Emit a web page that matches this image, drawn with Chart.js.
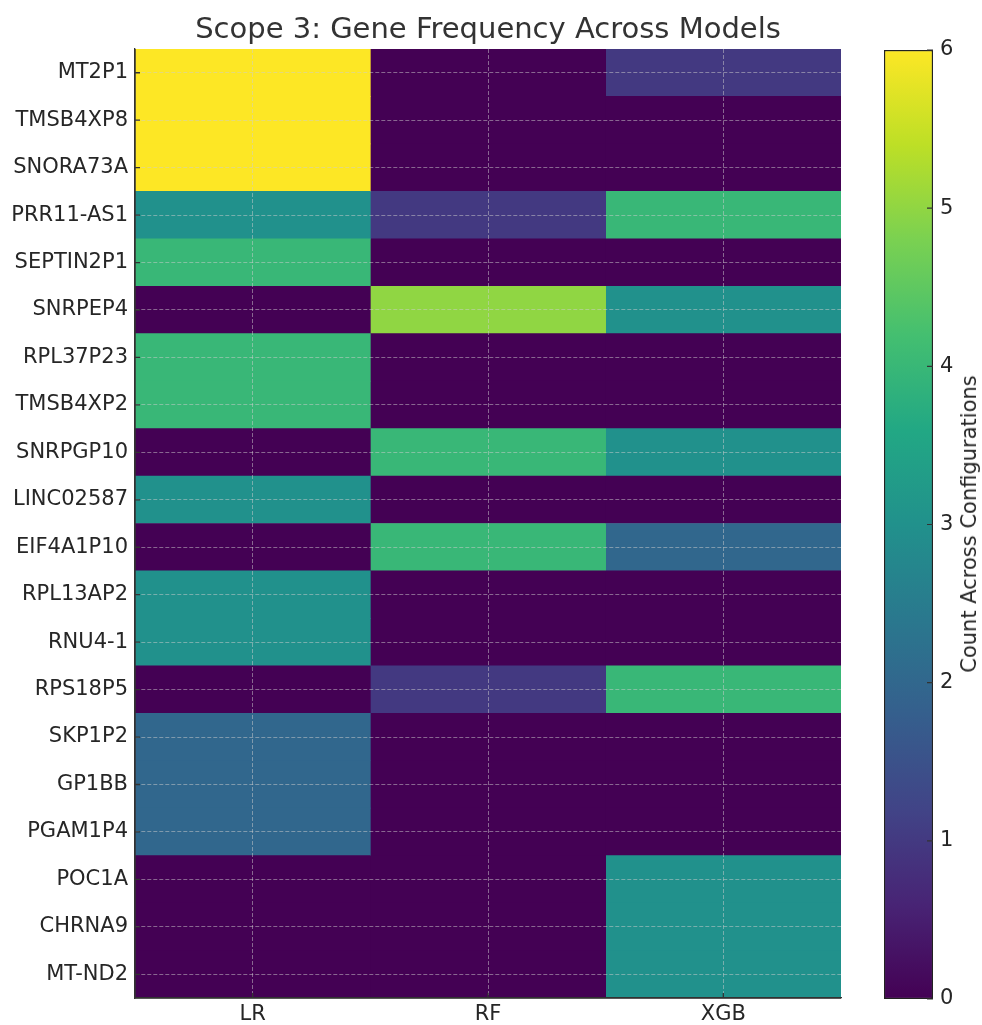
<!DOCTYPE html>
<html>
<head>
<meta charset="utf-8">
<script src="https://cdn.jsdelivr.net/npm/chart.js@4.4.1/dist/chart.umd.min.js"></script>
<style>
  html, body { margin: 0; padding: 0; background: #fff; }
  #wrap { position: relative; width: 982px; height: 1025px; }
  #heat { position: absolute; left: 0; top: 0; }
  #bar { position: absolute; left: 841px; top: 0; }
  #title {
    position: absolute; left: 488px; top: 28px;
    transform: translate(-50%, -50%);
    white-space: nowrap; font: 29px "DejaVu Sans", sans-serif; color: #333;
  }
  #cbLabel {
    position: absolute; left: 969px; top: 524px;
    transform: translate(-50%, -50%) rotate(-90deg);
    white-space: nowrap; font: 21px "DejaVu Sans", sans-serif; color: #262626;
  }
</style>
</head>
<body>
<div id="wrap">
  <canvas id="heat" width="982" height="1025"></canvas>
  <canvas id="bar" width="141" height="1025"></canvas>
  <div id="title">Scope 3: Gene Frequency Across Models</div>
  <div id="cbLabel">Count Across Configurations</div>
</div>
<script>
// Genes (rows, top to bottom) and models (columns)
const genes = ['MT2P1', 'TMSB4XP8', 'SNORA73A', 'PRR11-AS1', 'SEPTIN2P1', 'SNRPEP4',
  'RPL37P23', 'TMSB4XP2', 'SNRPGP10', 'LINC02587', 'EIF4A1P10', 'RPL13AP2', 'RNU4-1',
  'RPS18P5', 'SKP1P2', 'GP1BB', 'PGAM1P4', 'POC1A', 'CHRNA9', 'MT-ND2'];
const models = ['LR', 'RF', 'XGB'];

// How often each gene was selected, per model
const countsLR  = [6, 6, 6, 3, 4, 0, 4, 4, 0, 3, 0, 3, 3, 0, 2, 2, 2, 0, 0, 0];
const countsRF  = [0, 0, 0, 1, 0, 5, 0, 0, 4, 0, 4, 0, 0, 1, 0, 0, 0, 0, 0, 0];
const countsXGB = [1, 0, 0, 4, 0, 3, 0, 0, 3, 0, 2, 0, 0, 4, 0, 0, 0, 3, 3, 3];

// Colour scale range and colourbar ticks
const vMin = 0, vMax = 6;
const cbTicks = [0, 1, 2, 3, 4, 5, 6];

// viridis colour map, sampled every 0.1
const viridis = ['#440154', '#482475', '#414487', '#355f8d', '#2a788e', '#21918c',
  '#22a884', '#44bf70', '#7ad151', '#bddf26', '#fde725'];

function hexToRgb(h) {
  return [parseInt(h.slice(1, 3), 16), parseInt(h.slice(3, 5), 16), parseInt(h.slice(5, 7), 16)];
}
function colorFor(v) {
  const t = Math.min(1, Math.max(0, (v - vMin) / (vMax - vMin))) * (viridis.length - 1);
  const i = Math.min(viridis.length - 2, Math.floor(t));
  const f = t - i;
  const a = hexToRgb(viridis[i]), b = hexToRgb(viridis[i + 1]);
  const c = a.map((x, k) => Math.round(x + (b[k] - x) * f));
  return `rgb(${c[0]},${c[1]},${c[2]})`;
}

const FONT = '"DejaVu Sans", sans-serif';
const TEXT = '#262626';
const TICK_SIZE = 21;
const TICK_LEN = 5;

// dashed grid through the cell centres, drawn above the cells
const gridStyle = {
  color: 'rgba(205,205,205,0.5)', lineWidth: 1,
  offset: false, drawTicks: false, z: 1
};
const axisBorder = { display: true, color: '#333', width: 1.3, dash: [4, 2], z: 2 };

const columns = [countsLR, countsRF, countsXGB];
const heatDatasets = columns.map((counts, i) => ({
  label: models[i],
  data: counts.map(() => 1),
  counts: counts,
  backgroundColor: counts.map(colorFor),
  borderWidth: 0,
  barPercentage: 1,
  categoryPercentage: 1,
  stack: 'cells'
}));

new Chart(document.getElementById('heat'), {
  type: 'bar',
  data: { labels: genes, datasets: heatDatasets },
  options: {
    indexAxis: 'y',
    responsive: false,
    animation: false,
    layout: { padding: { left: 0, right: 141, top: 49, bottom: 0 } },
    plugins: { legend: { display: false }, tooltip: { enabled: false } },
    scales: {
      x: {
        type: 'linear', stacked: true, min: 0, max: models.length,
        grid: gridStyle,
        border: axisBorder,
        afterBuildTicks: s => { s.ticks = models.map((m, i) => ({ value: i + 0.5 })); },
        afterFit: s => { s.height = 27; },
        ticks: {
          color: TEXT, padding: 4, font: { family: FONT, size: TICK_SIZE },
          callback: v => models[Math.round(v - 0.5)]
        }
      },
      y: {
        type: 'category', stacked: true,
        grid: gridStyle,
        border: axisBorder,
        afterFit: s => { s.width = 135; },
        ticks: { color: TEXT, padding: 7, font: { family: FONT, size: TICK_SIZE } }
      }
    }
  },
  plugins: [{
    // solid spines on the left and bottom edges, with short inward tick marks
    id: 'spines',
    afterDraw(chart) {
      const { ctx, chartArea: a, scales } = chart;
      ctx.save();
      ctx.strokeStyle = '#333';
      ctx.lineWidth = 1.3;
      ctx.beginPath();
      ctx.moveTo(a.left, a.top);
      ctx.lineTo(a.left, a.bottom);
      ctx.lineTo(a.right, a.bottom);
      scales.y.ticks.forEach((t, i) => {
        const y = scales.y.getPixelForTick(i);
        ctx.moveTo(a.left, y);
        ctx.lineTo(a.left + TICK_LEN, y);
      });
      scales.x.ticks.forEach(t => {
        const x = scales.x.getPixelForValue(t.value);
        ctx.moveTo(x, a.bottom);
        ctx.lineTo(x, a.bottom - TICK_LEN);
      });
      ctx.stroke();
      ctx.restore();
    }
  }]
});

// Colourbar: a single bar spanning the value range, filled with the colour map
new Chart(document.getElementById('bar'), {
  type: 'bar',
  data: {
    labels: [''],
    datasets: [{
      data: [vMax],
      base: vMin,
      barPercentage: 1,
      categoryPercentage: 1,
      borderWidth: 1.5,
      borderColor: '#222',
      borderSkipped: false,
      backgroundColor: ctx => {
        const area = ctx.chart.chartArea;
        if (!area) return viridis[0];
        const g = ctx.chart.ctx.createLinearGradient(0, area.bottom, 0, area.top);
        viridis.forEach((c, i) => g.addColorStop(i / (viridis.length - 1), c));
        return g;
      }
    }]
  },
  options: {
    responsive: false,
    animation: false,
    layout: { padding: { left: 43, right: 0, top: 50, bottom: 26 } },
    plugins: { legend: { display: false }, tooltip: { enabled: false } },
    scales: {
      x: { display: false },
      y: {
        position: 'right', min: vMin, max: vMax,
        afterBuildTicks: s => { s.ticks = cbTicks.map(v => ({ value: v })); },
        afterFit: s => { s.width = 49; },
        border: { display: false },
        grid: { display: false, drawOnChartArea: false, drawTicks: false },
        ticks: { color: TEXT, padding: 7, font: { family: FONT, size: TICK_SIZE } }
      }
    }
  },
  plugins: [{
    // short tick marks on the inside of the colourbar's right edge
    id: 'cbTickMarks',
    afterDraw(chart) {
      const { ctx, chartArea: a, scales } = chart;
      ctx.save();
      ctx.strokeStyle = '#333';
      ctx.lineWidth = 1.2;
      ctx.beginPath();
      scales.y.ticks.forEach(t => {
        const y = scales.y.getPixelForValue(t.value);
        ctx.moveTo(a.right - TICK_LEN - 1, y);
        ctx.lineTo(a.right, y);
      });
      ctx.stroke();
      ctx.restore();
    }
  }]
});
</script>
</body>
</html>
